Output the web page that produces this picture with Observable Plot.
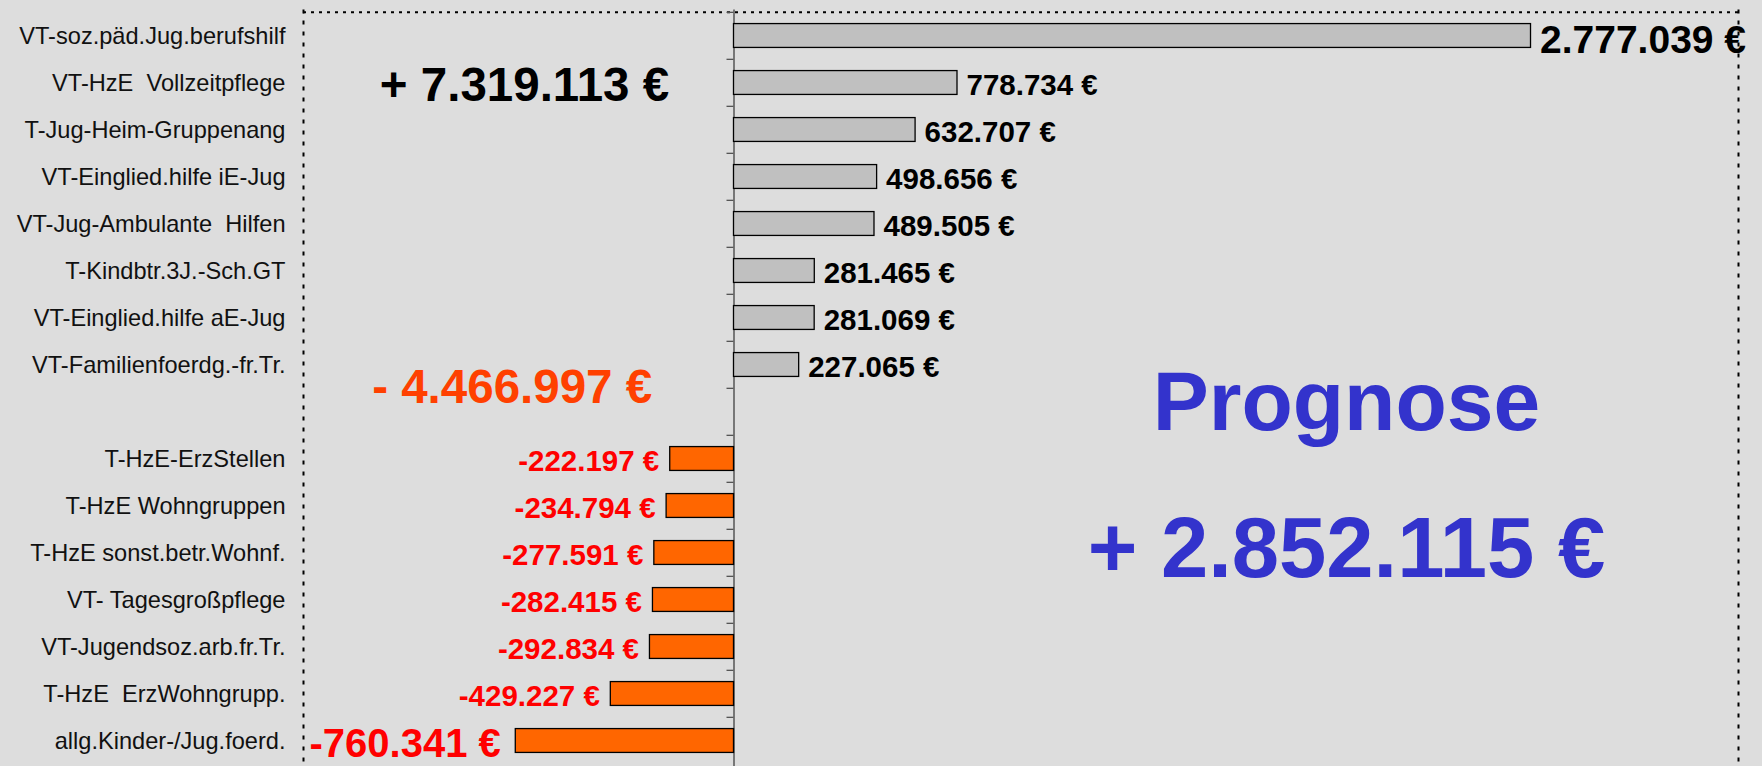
<!DOCTYPE html>
<html>
<head>
<meta charset="utf-8">
<script src="https://cdn.jsdelivr.net/npm/d3@7"></script>
<script src="https://cdn.jsdelivr.net/npm/@observablehq/plot@0.6"></script>
<style>
html, body { margin: 0; padding: 0; background: #dddddd; overflow: hidden; }
svg text { white-space: pre; }
</style>
</head>
<body>
<div id="chart"></div>
<script>
// ---- data ----
const posCategories = [
  "VT-soz.päd.Jug.berufshilf",
  "VT-HzE  Vollzeitpflege",
  "T-Jug-Heim-Gruppenang",
  "VT-Einglied.hilfe iE-Jug",
  "VT-Jug-Ambulante  Hilfen",
  "T-Kindbtr.3J.-Sch.GT",
  "VT-Einglied.hilfe aE-Jug",
  "VT-Familienfoerdg.-fr.Tr."
];
const posValues = [2777039, 778734, 632707, 498656, 489505, 281465, 281069, 227065];
const gapCategory = " ";
const negCategories = [
  "T-HzE-ErzStellen",
  "T-HzE Wohngruppen",
  "T-HzE sonst.betr.Wohnf.",
  "VT- Tagesgroßpflege",
  "VT-Jugendsoz.arb.fr.Tr.",
  "T-HzE  ErzWohngrupp.",
  "allg.Kinder-/Jug.foerd."
];
const negValues = [-222197, -234794, -277591, -282415, -292834, -429227, -760341];
const totalIncrease = 7319113;
const totalDecrease = 4466997;
const forecastTitle = "Prognose";
const forecastTotal = 2852115;
const xDomain = [-1500000, 3500000];

// ---- build ----
const de = d3.formatLocale({decimal: ",", thousands: ".", grouping: [3], currency: ["", " €"], minus: "-"});
const fmt = de.format(",d");
const eur = v => fmt(v) + " €";

const rows = [
  ...posCategories.map((c, i) => ({category: c, value: posValues[i]})),
  ...negCategories.map((c, i) => ({category: c, value: negValues[i]}))
];
const maxPos = d3.max(posValues), minNeg = d3.min(negValues);
rows.forEach(d => d.big = d.value === maxPos || d.value === minNeg);
const domain = [...posCategories, gapCategory, ...negCategories];

const W = 1762, H = 766, mL = 303, mR = 24, mT = 9.5, mB = -1;
const step = (H - mT - mB) / domain.length;
const pxPerUnit = (W - mL - mR) / (xDomain[1] - xDomain[0]);
const tickLen = 7 / pxPerUnit;
const inset = (step - 24.2) / 2;
const font = "'Liberation Sans', Arial, Helvetica, sans-serif";

const chart = Plot.plot({
  width: W, height: H,
  marginLeft: mL, marginRight: mR, marginTop: mT, marginBottom: mB,
  style: {background: "#dddddd", fontFamily: font, fontSize: "23.6px", color: "#111"},
  x: {domain: xDomain, axis: null},
  y: {domain, padding: 0, tickSize: 0, tickPadding: 18, label: null},
  marks: [
    // frame (top, left, right dotted)
    Plot.ruleY([domain[0]], {dy: -step / 2, stroke: "black", strokeWidth: 2, strokeDasharray: "3,5"}),
    Plot.ruleX(xDomain, {stroke: "black", strokeWidth: 2, strokeDasharray: "4,7"}),
    // zero axis with ticks at band boundaries
    Plot.ruleY(domain, {y: d => d, x1: -tickLen, x2: 0, dy: -step / 2, stroke: "#555", strokeWidth: 1.3}),
    Plot.ruleX([0], {stroke: "#555", strokeWidth: 1.5}),
    // bars
    Plot.barX(rows, {filter: d => d.value > 0, x: "value", y: "category", fill: "#c0c0c0", stroke: "black", strokeWidth: 1.3, insetTop: inset, insetBottom: inset}),
    Plot.barX(rows, {filter: d => d.value < 0, x: "value", y: "category", fill: "#ff6600", stroke: "black", strokeWidth: 1.3, insetTop: inset, insetBottom: inset}),
    // value labels
    Plot.text(rows, {filter: d => d.value > 0 && !d.big, x: "value", y: "category", text: d => eur(d.value), textAnchor: "start", dx: 9, dy: 2.5, fontSize: 29.5, fontWeight: "bold", fill: "black"}),
    Plot.text(rows, {filter: d => d.value > 0 && d.big, x: "value", y: "category", text: d => eur(d.value), textAnchor: "start", dx: 9, dy: 5, fontSize: 39, fontWeight: "bold", fill: "black"}),
    Plot.text(rows, {filter: d => d.value < 0 && !d.big, x: "value", y: "category", text: d => eur(d.value), textAnchor: "end", dx: -11, dy: 2.5, fontSize: 29.5, fontWeight: "bold", fill: "#ff0000"}),
    Plot.text(rows, {filter: d => d.value < 0 && d.big, x: "value", y: "category", text: d => eur(d.value), textAnchor: "end", dx: -15, dy: 3, fontSize: 40, fontWeight: "bold", fill: "#ff0000"}),
    // annotations
    Plot.text([{x: -730000, y: posCategories[1], t: "+ " + eur(totalIncrease)}], {x: "x", y: "y", text: "t", lineAnchor: "bottom", dy: 18, fontSize: 47.5, fontWeight: "bold", fill: "black"}),
    Plot.text([{x: -773000, y: gapCategory, t: "- " + eur(totalDecrease)}], {x: "x", y: "y", text: "t", lineAnchor: "bottom", dy: -9.5, fontSize: 47.5, fontWeight: "bold", fill: "#ff4000"}),
    Plot.text([{x: 2134000, y: gapCategory, t: forecastTitle}], {x: "x", y: "y", text: "t", lineAnchor: "bottom", dy: 18, fontSize: 84, fontWeight: "bold", fill: "#3333cc"}),
    Plot.text([{x: 2134000, y: negCategories[2], t: "+ " + eur(forecastTotal)}], {x: "x", y: "y", text: "t", lineAnchor: "bottom", dy: 23.6, fontSize: 85, fontWeight: "bold", fill: "#3333cc"})
  ]
});
document.getElementById("chart").appendChild(chart);
</script>
</body>
</html>
